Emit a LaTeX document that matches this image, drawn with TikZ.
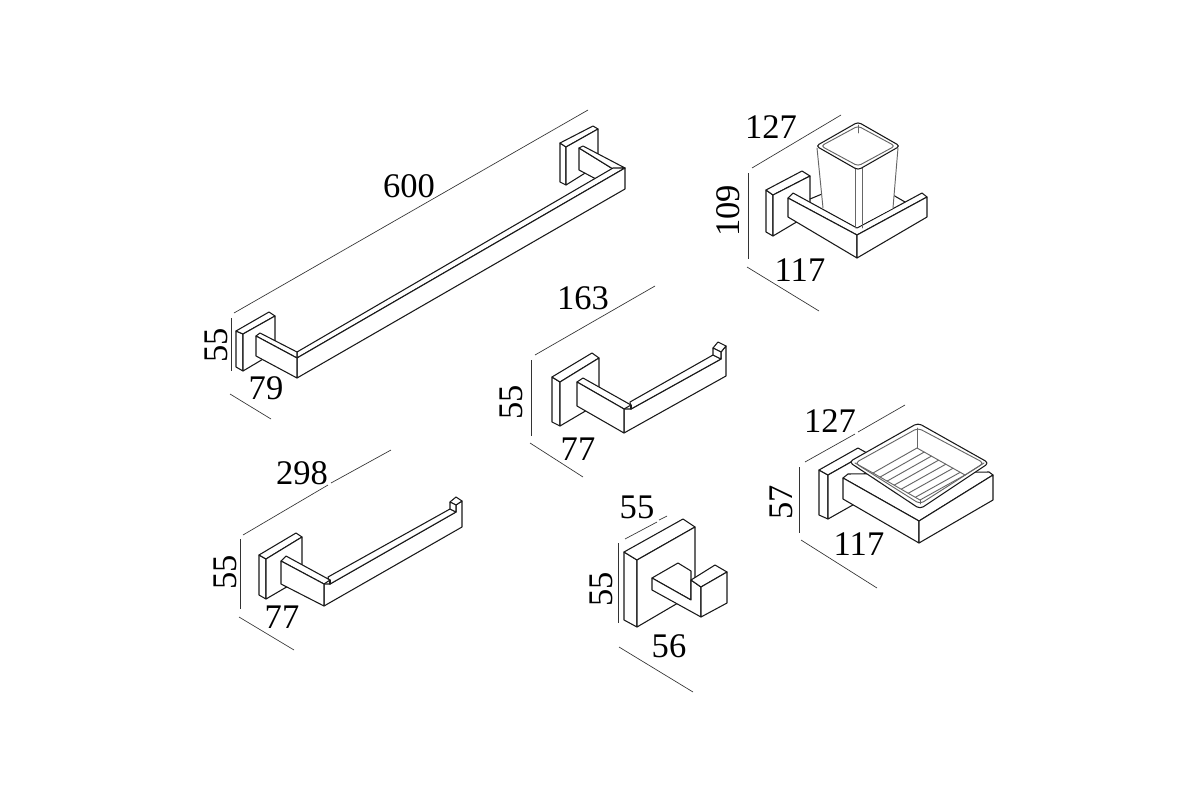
\documentclass[tikz,border=0pt]{standalone}
\usepackage{fontspec}
\setmainfont{Liberation Serif}
\usetikzlibrary{calc}
\tikzset{
  dimline/.style={draw=black!80,line width=0.5pt},
  part/.style={draw=black!90,fill=white,line width=0.8pt,line join=round},
  edge/.style={draw=black!90,line width=0.8pt,line cap=round},
  soft/.style={draw=black!60,line width=0.7pt,line cap=round},
  dimtext/.style={inner sep=0pt,font=\fontsize{25.9}{26}\selectfont},
}
\begin{document}
\begin{tikzpicture}[x=0.75pt,y=-0.75pt]
  \useasboundingbox (0,0) rectangle (1200,800);

  % long bar
  \draw[dimline] (234,313) -- (588,110);
  \draw[dimline] (231,318) -- (231,371);
  \draw[dimline] (230,394) -- (271,419);
  \node[dimtext] (lblbarlen) at (409,186) {600};
  \node[dimtext,rotate=90] (lblbarhgt) at (216,345) {55};
  \node[dimtext] (lblbardep) at (266,388) {79};
  \draw[part] (560,143) -- (566,147) -- (566,185) -- (560,182) -- cycle;
  \draw[part] (560,143) -- (593,126) -- (598,129) -- (566,147) -- cycle;
  \draw[part] (566,147) -- (598,129) -- (598,165) -- (566,185) -- cycle;
  \draw[part] (579,148) -- (613,169) -- (596,179) -- (579,170) -- cycle;
  \draw[part] (579,148) -- (583,146) -- (625,168) -- (613,169) -- cycle;
  \draw[part] (236,331) -- (243,334) -- (243,371) -- (236,367) -- cycle;
  \draw[part] (236,331) -- (269,312) -- (275,316) -- (243,334) -- cycle;
  \draw[part] (243,334) -- (275,316) -- (275,352) -- (243,371) -- cycle;
  \draw[part] (297,352) -- (613,168) -- (625,168) -- (297,358) -- cycle;
  \draw[part] (297,358) -- (625,168) -- (625,189) -- (297,378) -- cycle;
  \draw[part] (256,336) -- (260,333) -- (297,352) -- (297,358) -- cycle;
  \draw[part] (256,336) -- (297,358) -- (297,378) -- (256,356) -- cycle;

  % tumbler holder
  \draw[dimline] (752,168) -- (841,115);
  \draw[dimline] (748,173) -- (748,259);
  \draw[dimline] (747,267) -- (819,311);
  \node[dimtext] (lblcupwid) at (771,127) {127};
  \node[dimtext,rotate=90] (lblcuphgt) at (728,211) {109};
  \node[dimtext] (lblcupdep) at (800,270) {117};
  \draw[part] (766,190) -- (773,195) -- (773,236) -- (766,232) -- cycle;
  \draw[part] (766,190) -- (802,171) -- (810,176) -- (773,195) -- cycle;
  \draw[part] (773,195) -- (810,176) -- (810,214) -- (773,236) -- cycle;
  \draw[edge] (810,199) -- (822,194);
  \draw[edge] (893,195) -- (905,202);
  \draw[part] (793,193) -- (857,228) -- (922,193) -- (927,197) -- (857,235) -- (788,198) -- cycle;
  \draw[part] (788,198) -- (857,235) -- (857,258) -- (788,217) -- cycle;
  \draw[part] (857,235) -- (927,197) -- (927,217) -- (857,258) -- cycle;
  \fill[white] (817,146) -- (823,208) -- (857,227) -- (893,208) -- (899,146) -- (858,123) -- cycle;
  \draw[soft] (817,148) -- (823,208);
  \draw[soft] (898,148) -- (893,208);
  \draw[soft] (855,168) -- (855,228);
  \draw[soft] (862,168) -- (862,228);
  \draw[soft] (858,125) -- (858,133);
  \draw[edge,rounded corners=2.5pt] (858,122) -- (900,146) -- (858,170) -- (816,146) -- cycle;
  \draw[soft,rounded corners=2.5pt] (858,126) -- (895,146) -- (858,166) -- (821,146) -- cycle;

  % roll holder, short
  \draw[dimline] (535,355) -- (655,286);
  \draw[dimline] (531,360) -- (531,436);
  \draw[dimline] (530,443) -- (583,477);
  \node[dimtext] (lblrollwid) at (583,298) {163};
  \node[dimtext,rotate=90] (lblrollhgt) at (511,402) {55};
  \node[dimtext] (lblrolldep) at (578,449) {77};
  \draw[part] (552,377) -- (560,382) -- (560,426) -- (552,422) -- cycle;
  \draw[part] (552,377) -- (592,353) -- (599,358) -- (560,382) -- cycle;
  \draw[part] (560,382) -- (599,358) -- (599,403) -- (560,426) -- cycle;
  \draw[part] (631,409) -- (721,359) -- (721,352) -- (726,346) -- (726,376) -- (624,433) -- (624,409) -- cycle;
  \draw[part] (630,402) -- (713,355) -- (721,359) -- (631,409) -- cycle;
  \draw[part] (713,348) -- (718,342) -- (726,346) -- (721,352) -- cycle;
  \draw[part] (713,348) -- (721,352) -- (721,359) -- (713,355) -- cycle;
  \draw[part] (577,382) -- (583,378) -- (631,405) -- (624,409) -- cycle;
  \draw[part] (577,382) -- (624,409) -- (624,433) -- (577,406) -- cycle;
  \draw[edge] (631,405) -- (631,409);

  % roll holder, long
  \draw[dimline] (243,535) -- (328,485);
  \draw[dimline] (331,483) -- (391,450);
  \draw[dimline] (240,539) -- (240,609);
  \draw[dimline] (239,617) -- (294,650);
  \node[dimtext] (lbllongwid) at (302,473) {298};
  \node[dimtext,rotate=90] (lbllonghgt) at (225,572) {55};
  \node[dimtext] (lbllongdep) at (282,617) {77};
  \draw[part] (259,555) -- (266,559) -- (266,599) -- (259,595) -- cycle;
  \draw[part] (259,555) -- (296,533) -- (302,537) -- (266,559) -- cycle;
  \draw[part] (266,559) -- (302,537) -- (302,578) -- (266,599) -- cycle;
  \draw[part] (330,584) -- (456,512) -- (456,505) -- (462,501) -- (462,527) -- (324,606) -- (324,584) -- cycle;
  \draw[part] (328,577) -- (450,509) -- (456,512) -- (330,584) -- cycle;
  \draw[part] (450,502) -- (456,497) -- (462,501) -- (456,505) -- cycle;
  \draw[part] (450,502) -- (456,505) -- (456,512) -- (450,509) -- cycle;
  \draw[part] (281,561) -- (286,556) -- (330,580) -- (324,584) -- cycle;
  \draw[part] (281,561) -- (324,584) -- (324,606) -- (281,584) -- cycle;
  \draw[edge] (330,580) -- (330,584);

  % soap dish
  \draw[dimline] (805,462) -- (855,434);
  \draw[dimline] (858,432) -- (905,405);
  \draw[dimline] (799,467) -- (799,533);
  \draw[dimline] (801,540) -- (877,588);
  \node[dimtext] (lblsoapwid) at (830,421) {127};
  \node[dimtext,rotate=90] (lblsoaphgt) at (781,502) {57};
  \node[dimtext] (lblsoapdep) at (859,544) {117};
  \draw[part] (819,470) -- (828,475) -- (828,519) -- (819,515) -- cycle;
  \draw[part] (819,470) -- (858,448) -- (867,453) -- (828,475) -- cycle;
  \draw[part] (828,475) -- (867,453) -- (867,497) -- (828,519) -- cycle;
  \draw[part] (843,478) -- (848,474) -- (989,472) -- (993,475) -- (919,521) -- cycle;
  \draw[part] (843,478) -- (919,521) -- (919,543) -- (843,499) -- cycle;
  \draw[part] (919,521) -- (993,475) -- (993,500) -- (919,543) -- cycle;
  \draw[part,rounded corners=3pt] (849,462) -- (918,423) -- (989,463) -- (920,509) -- cycle;
  \draw[soft,rounded corners=3pt] (855,463) -- (918,428) -- (984,463) -- (920,504) -- cycle;
  \coordinate (floorback) at (917,448);
  \coordinate (floorleft) at (873,473);
  \coordinate (floorright) at (965,475);
  \coordinate (floorfront) at (920,500);
  \draw[soft] (floorback) -- (floorright) -- (floorfront) -- (floorleft) -- cycle;
  \draw[soft] (917,428) -- (floorback);
  \draw[soft] (855,463) -- (floorleft);
  \draw[soft] (984,463) -- (floorright);
  \draw[soft] (920,504) -- (floorfront);
  \foreach \t in {0.15,0.3,0.45,0.6,0.75,0.9}
    \draw[soft] ($(floorleft)!\t!(floorfront)$) -- ($(floorback)!\t!(floorright)$);

  % hook
  \draw[dimline] (625,539) -- (657,522);
  \draw[dimline] (659,520) -- (667,516);
  \draw[dimline] (618,543) -- (618,623);
  \draw[dimline] (619,647) -- (693,692);
  \node[dimtext] (lblhookwid) at (637,507) {55};
  \node[dimtext,rotate=90] (lblhookhgt) at (601,589) {55};
  \node[dimtext] (lblhookdep) at (669,646) {56};
  \draw[part] (624,552) -- (637,560) -- (637,627) -- (624,620) -- cycle;
  \draw[part] (624,552) -- (683,519) -- (695,527) -- (637,560) -- cycle;
  \draw[part] (637,560) -- (695,527) -- (695,593) -- (637,627) -- cycle;
  \draw[part] (652,578) -- (678,563) -- (691,571) -- (691,600) -- cycle;
  \draw[part] (652,578) -- (691,600) -- (691,580) -- (701,587) -- (701,617) -- (652,590) -- cycle;
  \draw[part] (691,580) -- (715,565) -- (727,572) -- (701,587) -- cycle;
  \draw[part] (701,587) -- (727,572) -- (727,603) -- (701,617) -- cycle;
\end{tikzpicture}
\end{document}
